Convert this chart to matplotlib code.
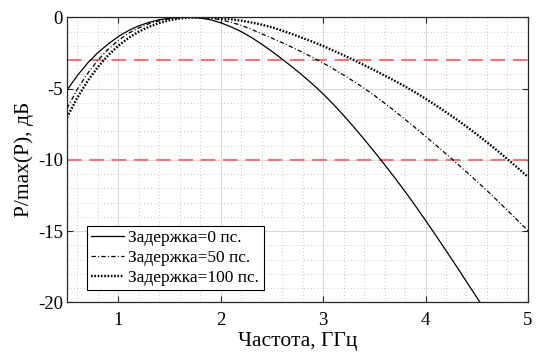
import matplotlib
matplotlib.use("Agg")
import matplotlib.pyplot as plt
from matplotlib.ticker import MultipleLocator

plt.rcParams["font.family"] = ["Liberation Serif", "DejaVu Serif"]
plt.rcParams["axes.unicode_minus"] = False

# частота, ГГц
FREQ = [0.5, 0.6, 0.7, 0.8, 0.9, 1.0, 1.1, 1.2, 1.3, 1.4,
        1.5, 1.6, 1.7, 1.8, 1.9, 2.0, 2.1, 2.2, 2.3, 2.4,
        2.5, 2.6, 2.7, 2.8, 2.9, 3.0, 3.1, 3.2, 3.3, 3.4,
        3.5, 3.6, 3.7, 3.8, 3.9, 4.0, 4.1, 4.2, 4.3, 4.4,
        4.5, 4.6, 4.7, 4.8, 4.9, 5.0]

# P/max(P), дБ для разных задержек
P_0PS = [-5.10, -4.10, -3.22, -2.49, -1.88, -1.35, -0.93, -0.60, -0.35, -0.17,
         -0.06, -0.01, 0.00, -0.05, -0.17, -0.38, -0.66, -1.00, -1.41, -1.88,
         -2.39, -2.93, -3.49, -4.08, -4.70, -5.37, -6.10, -6.88, -7.70, -8.55,
         -9.43, -10.33, -11.26, -12.22, -13.22, -14.25, -15.30, -16.37, -17.45, -18.55,
         -19.65, -20.75]
P_50PS = [-6.40, -5.05, -3.95, -3.02, -2.25, -1.62, -1.12, -0.74, -0.45, -0.24,
          -0.10, -0.03, 0.00, -0.01, -0.06, -0.17, -0.34, -0.56, -0.84, -1.15,
          -1.46, -1.78, -2.11, -2.46, -2.82, -3.20, -3.62, -4.05, -4.50, -4.97,
          -5.48, -6.02, -6.58, -7.16, -7.75, -8.35, -8.96, -9.58, -10.21, -10.85,
          -11.50, -12.16, -12.85, -13.55, -14.26, -14.98]
P_100PS = [-7.02, -5.65, -4.48, -3.50, -2.68, -2.00, -1.45, -1.01, -0.66, -0.40,
           -0.21, -0.08, -0.02, 0.00, -0.015, -0.06, -0.13, -0.23, -0.36, -0.51,
           -0.70, -0.93, -1.18, -1.45, -1.72, -2.01, -2.33, -2.66, -3.00, -3.35,
           -3.71, -4.08, -4.46, -4.85, -5.27, -5.71, -6.17, -6.65, -7.15, -7.67,
           -8.21, -8.77, -9.35, -9.95, -10.57, -11.20]

LEVELS = [-3, -10]
LABELS = ["Задержка=0 пс.", "Задержка=50 пс.", "Задержка=100 пс."]

fig = plt.figure(figsize=(5.36, 3.54), dpi=100)
ax = fig.add_axes([0.125, 0.146, 0.86, 0.805])

ax.plot(FREQ[:len(P_0PS)], P_0PS, color="black", lw=0.9, ls="-", label=LABELS[0])
ax.plot(FREQ, P_50PS, color="black", lw=0.9, ls=(0, (3.5, 1.8, 0.8, 1.8)), label=LABELS[1])
ax.plot(FREQ, P_100PS, color="black", lw=1.7, ls=(0, (0.7, 0.7)), label=LABELS[2])

for lev in LEVELS:
    ax.axhline(lev, color="#f07878", lw=1.5, dashes=(7, 3.7), zorder=1.5)

ax.set_xlim(0.5, 5)
ax.set_ylim(-20, 0)
ax.xaxis.set_major_locator(MultipleLocator(1))
ax.xaxis.set_minor_locator(MultipleLocator(0.2))
ax.yaxis.set_major_locator(MultipleLocator(5))
ax.yaxis.set_minor_locator(MultipleLocator(1))

ax.set_axisbelow(True)
ax.grid(which="major", color="#dcdcdc", lw=0.8, ls="-")
ax.grid(which="minor", color="#b4b4b4", lw=0.6, ls=(0, (1, 3)))
ax.tick_params(which="major", direction="in", top=True, right=True,
               length=4, width=0.8, labelsize=13.5, colors="#262626")
ax.tick_params(which="major", labelcolor="black")
ax.tick_params(axis="x", which="major", pad=7)
ax.tick_params(axis="y", which="major", pad=3)
ax.tick_params(which="minor", length=0)
for sp in ax.spines.values():
    sp.set_linewidth(0.9)
    sp.set_color("#262626")

ax.set_xlabel("Частота, ГГц", fontsize=15.5, labelpad=2)
ax.set_ylabel("P/max(P), дБ", fontsize=15.5, labelpad=3)

leg = ax.legend(loc="lower left", bbox_to_anchor=(0.043, 0.043), borderaxespad=0,
                fontsize=12.5, fancybox=False, framealpha=1, edgecolor="black",
                handlelength=1.9, handletextpad=0.25, borderpad=0.25,
                labelspacing=0.2)
leg.get_frame().set_linewidth(0.8)

fig.savefig("out.png", dpi=100)
